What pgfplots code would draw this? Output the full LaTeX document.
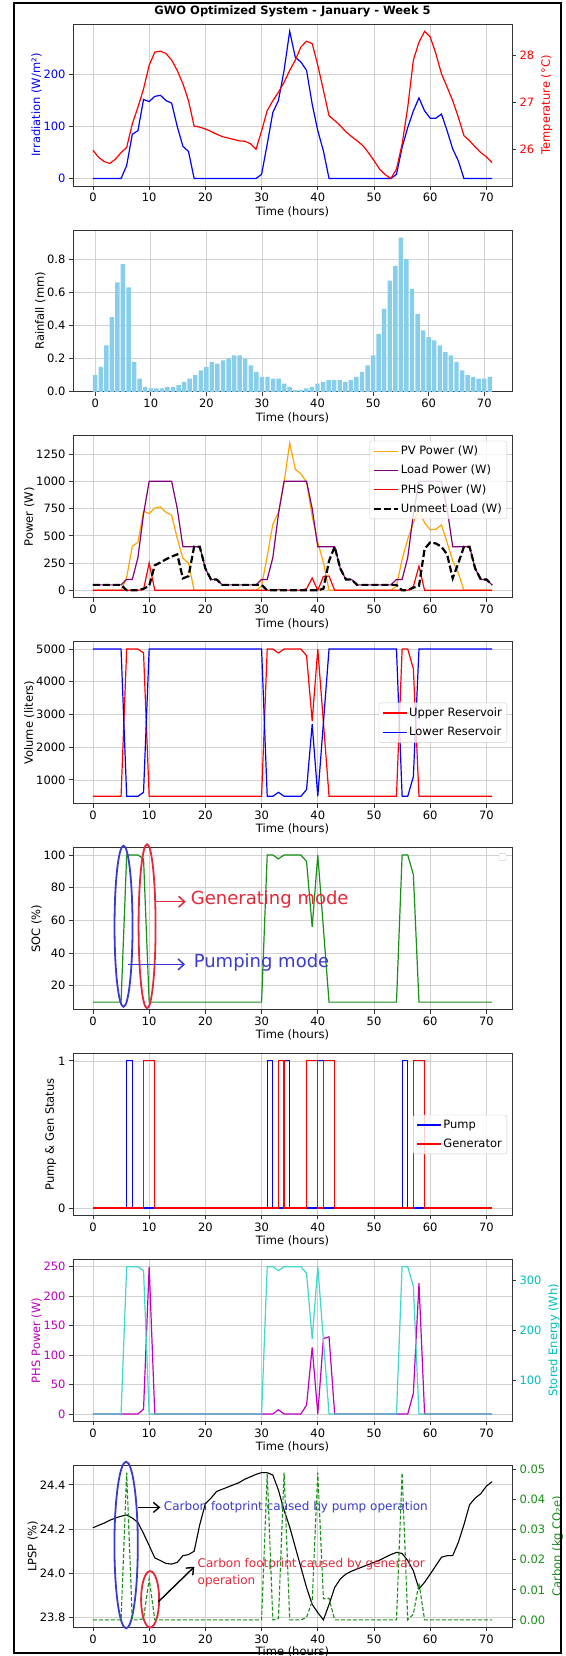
\documentclass[border=0pt]{standalone}
\usepackage{fontspec}
\setmainfont{DejaVu Sans}
\usepackage{pgfplots}
\usepackage{pgfplotstable}
\pgfplotsset{compat=1.18}
\usetikzlibrary{arrows.meta}

\definecolor{mblue}{rgb}{0,0,1}
\definecolor{mred}{rgb}{1,0,0}
\definecolor{morange}{HTML}{FFA500}
\definecolor{mpurple}{HTML}{800080}
\definecolor{skyblue}{HTML}{87CEEB}
\definecolor{mgreen}{HTML}{1A8F1A}
\definecolor{mmag}{rgb}{0.75,0,0.75}
\definecolor{mcyan}{rgb}{0,0.75,0.75}
\definecolor{turq}{HTML}{40D8CC}
\definecolor{annblue}{HTML}{3A3ACD}
\definecolor{annred}{HTML}{E4283A}

\newcommand{\fs}{\fontsize{11.5}{13.8}\selectfont}

% hourly data, t = 0..71
\pgfplotstableread{
t irr temp rain
0 0 25.99 0.10
1 0 25.84 0.15
2 0 25.75 0.28
3 0 25.71 0.45
4 0 25.80 0.66
5 0 25.94 0.77
6 25 26.05 0.63
7 85 26.55 0.18
8 92 26.90 0.08
9 152 27.29 0.03
10 148 27.79 0.02
11 158 28.07 0.02
12 160 28.09 0.02
13 150 28.04 0.03
14 145 27.90 0.03
15 100 27.68 0.04
16 62 27.40 0.06
17 52 27.04 0.08
18 0 26.50 0.10
19 0 26.48 0.13
20 0 26.44 0.15
21 0 26.39 0.18
22 0 26.33 0.17
23 0 26.28 0.19
24 0 26.25 0.20
25 0 26.22 0.22
26 0 26.19 0.22
27 0 26.18 0.20
28 0 26.13 0.16
29 0 26.01 0.12
30 8 26.40 0.09
31 66 26.83 0.09
32 127 27.04 0.08
33 150 27.22 0.08
34 208 27.43 0.05
35 283 27.68 0.03
36 233 27.90 0.01
37 224 28.18 0.01
38 208 28.30 0.02
39 143 28.25 0.03
40 92 27.79 0.05
41 53 27.26 0.06
42 0 26.72 0.07
43 0 26.62 0.07
44 0 26.51 0.07
45 0 26.38 0.06
46 0 26.28 0.07
47 0 26.19 0.09
48 0 26.09 0.12
49 0 25.94 0.16
50 0 25.77 0.22
51 0 25.59 0.35
52 0 25.47 0.50
53 0 25.39 0.67
54 8 25.59 0.76
55 60 26.12 0.93
56 98 26.90 0.80
57 130 27.90 0.62
58 155 28.28 0.47
59 130 28.51 0.37
60 116 28.39 0.33
61 116 28.04 0.31
62 124 27.61 0.28
63 92 27.33 0.24
64 57 27.04 0.22
65 34 26.69 0.18
66 0 26.30 0.13
67 0 26.19 0.10
68 0 26.06 0.09
69 0 25.94 0.08
70 0 25.85 0.08
71 0 25.73 0.09
}\weather

\pgfplotstableread{
t pv load phs unmet
0 0 50 0 50
1 0 50 0 50
2 0 50 0 50
3 0 50 0 50
4 0 50 0 50
5 0 50 0 50
6 120 100 0 0
7 405 100 0 0
8 440 300 0 0
9 725 700 8 15
10 705 1000 250 40
11 755 1000 0 230
12 765 1000 0 255
13 715 1000 0 285
14 690 1000 0 310
15 475 750 0 330
16 295 400 0 110
17 250 400 0 130
18 0 400 0 400
19 0 400 0 400
20 0 200 0 200
21 0 100 0 100
22 0 100 0 100
23 0 50 0 50
24 0 50 0 50
25 0 50 0 50
26 0 50 0 50
27 0 50 0 50
28 0 50 0 50
29 0 50 0 50
30 40 100 0 50
31 315 100 0 0
32 605 300 0 0
33 715 700 7 0
34 990 1000 0 0
35 1350 1000 0 0
36 1110 1000 0 0
37 1070 1000 0 0
38 990 1000 15 0
39 680 750 113 0
40 440 400 0 0
41 255 400 128 15
42 0 400 131 270
43 0 400 0 400
44 0 200 0 200
45 0 100 0 100
46 0 100 0 100
47 0 50 0 50
48 0 50 0 50
49 0 50 0 50
50 0 50 0 50
51 0 50 0 50
52 0 50 0 50
53 0 50 0 50
54 40 100 0 50
55 285 100 0 0
56 470 300 0 0
57 620 700 35 25
58 740 1000 222 40
59 620 1000 0 380
60 555 1000 0 440
61 560 1000 0 430
62 600 1000 0 400
63 440 750 0 330
64 270 400 0 110
65 160 400 0 250
66 0 400 0 400
67 0 400 0 400
68 0 200 0 200
69 0 100 0 100
70 0 100 0 100
71 0 50 0 50
}\power

\pgfplotstableread{
t upper lower soc stored pump gen
0 500 5000 10 32.7 0 0
1 500 5000 10 32.7 0 0
2 500 5000 10 32.7 0 0
3 500 5000 10 32.7 0 0
4 500 5000 10 32.7 0 0
5 500 5000 10 32.7 0 0
6 5000 500 100 327 1 0
7 5000 500 100 327 0 0
8 5000 500 100 327 0 0
9 4880 620 97.6 319.2 0 1
10 500 5000 10 32.7 0 1
11 500 5000 10 32.7 0 0
12 500 5000 10 32.7 0 0
13 500 5000 10 32.7 0 0
14 500 5000 10 32.7 0 0
15 500 5000 10 32.7 0 0
16 500 5000 10 32.7 0 0
17 500 5000 10 32.7 0 0
18 500 5000 10 32.7 0 0
19 500 5000 10 32.7 0 0
20 500 5000 10 32.7 0 0
21 500 5000 10 32.7 0 0
22 500 5000 10 32.7 0 0
23 500 5000 10 32.7 0 0
24 500 5000 10 32.7 0 0
25 500 5000 10 32.7 0 0
26 500 5000 10 32.7 0 0
27 500 5000 10 32.7 0 0
28 500 5000 10 32.7 0 0
29 500 5000 10 32.7 0 0
30 500 5000 10 32.7 0 0
31 5000 500 100 327 1 0
32 5000 500 100 327 0 0
33 4880 620 97.6 319.2 0 1
34 5000 500 100 327 1 0
35 5000 500 100 327 0 0
36 5000 500 100 327 0 0
37 5000 500 100 327 0 0
38 4800 700 96 313.9 0 1
39 2800 2700 56 183.1 0 1
40 5000 500 100 327 1 0
41 2750 2750 55 179.9 0 1
42 500 5000 10 32.7 0 1
43 500 5000 10 32.7 0 0
44 500 5000 10 32.7 0 0
45 500 5000 10 32.7 0 0
46 500 5000 10 32.7 0 0
47 500 5000 10 32.7 0 0
48 500 5000 10 32.7 0 0
49 500 5000 10 32.7 0 0
50 500 5000 10 32.7 0 0
51 500 5000 10 32.7 0 0
52 500 5000 10 32.7 0 0
53 500 5000 10 32.7 0 0
54 500 5000 10 32.7 0 0
55 5000 500 100 327 1 0
56 5000 500 100 327 0 0
57 4400 1100 88 287.8 0 1
58 500 5000 10 32.7 0 1
59 500 5000 10 32.7 0 0
60 500 5000 10 32.7 0 0
61 500 5000 10 32.7 0 0
62 500 5000 10 32.7 0 0
63 500 5000 10 32.7 0 0
64 500 5000 10 32.7 0 0
65 500 5000 10 32.7 0 0
66 500 5000 10 32.7 0 0
67 500 5000 10 32.7 0 0
68 500 5000 10 32.7 0 0
69 500 5000 10 32.7 0 0
70 500 5000 10 32.7 0 0
71 500 5000 10 32.7 0 0
}\storage

\pgfplotstableread{
t lpsp carbon
0 24.206 0
1 24.217 0
2 24.227 0
3 24.240 0
4 24.250 0
5 24.258 0
6 24.264 0.049
7 24.250 0
8 24.230 0
9 24.180 0.0004
10 24.126 0.0137
11 24.070 0
12 24.058 0
13 24.045 0
14 24.042 0
15 24.050 0
16 24.080 0
17 24.085 0
18 24.100 0
19 24.220 0
20 24.315 0
21 24.340 0
22 24.370 0
23 24.380 0
24 24.390 0
25 24.400 0
26 24.410 0
27 24.425 0
28 24.436 0
29 24.447 0
30 24.455 0
31 24.455 0.049
32 24.444 0
33 24.376 0.0004
34 24.285 0.049
35 24.210 0
36 24.118 0
37 24.027 0
38 23.936 0.0008
39 23.860 0.0062
40 23.823 0.049
41 23.790 0.007
42 23.860 0.0072
43 23.936 0
44 23.975 0
45 23.997 0
46 24.010 0
47 24.020 0
48 24.030 0
49 24.040 0
50 24.050 0
51 24.060 0
52 24.073 0
53 24.085 0
54 24.095 0
55 24.090 0.049
56 24.058 0
57 24.012 0.0019
58 23.930 0.0122
59 23.960 0
60 23.997 0
61 24.035 0
62 24.073 0
63 24.080 0
64 24.080 0
65 24.140 0
66 24.220 0
67 24.310 0
68 24.340 0
69 24.360 0
70 24.394 0
71 24.414 0
}\impact

\pgfplotsset{
  base/.style={
    scale only axis, width=439pt, height=161.9pt, anchor=north west,
    xmin=-3.55, xmax=74.55, xtick={0,10,...,70}, enlargelimits=false,
    scaled ticks=false, tick pos=left, tick align=outside,
    major tick length=4pt,
    /pgf/number format/assume math mode=true,
    /pgf/number format/1000 sep={},
    tick label style={font=\fs},
    label style={font=\fs},
    axis line style={black!80, line width=0.8pt},
    tick style={black!80, line width=0.8pt},
  },
  panel/.style={base,
    xlabel={Time (hours)}, xlabel style={yshift=2.5pt},
    ylabel style={yshift=-5pt},
    grid=major, grid style={black!18, line width=0.7pt},
    legend style={font=\fs, draw=black!20, rounded corners=2pt,
      fill=white, fill opacity=0.8, text opacity=1, draw opacity=1,
      inner xsep=3pt, inner ysep=3pt, row sep=5pt, cells={anchor=west}},
    legend image code/.code={\draw[##1] (0pt,0pt) -- (24pt,0pt);},
  },
  twin/.style={base, axis y line*=right, axis x line=none, ytick pos=right},
}

\begin{document}
\begin{tikzpicture}
\useasboundingbox (0,0) rectangle (565pt,-1656pt);
\fill[white] (0,0) rectangle (565pt,-1656pt);

% 1: irradiation and temperature
\begin{axis}[panel, at={(73pt,-24pt)}, ymin=-14.15, ymax=297.15, ytick={0,100,200},
  ylabel={Irradiation (W/m²)}, ylabel style={text=mblue}, yticklabel style={text=mblue},
  title={\bfseries GWO Optimized System - January - Week 5},
  title style={font=\fs, yshift=-3pt}]
\addplot[mblue, line width=1.2pt] table[x=t, y=irr] {\weather};
\end{axis}
\begin{axis}[twin, at={(73pt,-24pt)}, ymin=25.234, ymax=28.666, ytick={26,27,28},
  ylabel={Temperature (°C)}, ylabel style={text=mred}, yticklabel style={text=mred}]
\addplot[mred, line width=1.2pt] table[x=t, y=temp] {\weather};
\end{axis}

% 2: rainfall
\begin{axis}[panel, at={(73pt,-229.9pt)}, xmin=-3.99, xmax=74.99, ymin=0, ymax=0.9765,
  ytick={0,0.2,0.4,0.6,0.8}, ylabel={Rainfall (mm)},
  yticklabel style={/pgf/number format/.cd, fixed, fixed zerofill, precision=1}]
\addplot[ybar, bar width=0.8, bar shift=0pt, fill=skyblue, draw=none] table[x=t, y=rain] {\weather};
\end{axis}

% 3: power
\begin{axis}[panel, at={(73pt,-435.8pt)}, ymin=-67.5, ymax=1417.5,
  ytick={0,250,500,750,1000,1250}, ylabel={Power (W)},
  legend style={at={(1,1)}, anchor=north east, xshift=-5pt, yshift=-5pt}]
\addplot[morange, line width=1.2pt] table[x=t, y=pv] {\power};
\addplot[mpurple, line width=1.2pt] table[x=t, y=load] {\power};
\addplot[mred, line width=1.2pt] table[x=t, y=phs] {\power};
\addplot[black, line width=2.2pt, dash pattern=on 7pt off 3pt] table[x=t, y=unmet] {\power};
\legend{PV Power (W), Load Power (W), PHS Power (W), Unmeet Load (W)}
\end{axis}

% 4: reservoir volumes
\begin{axis}[panel, at={(73pt,-641.7pt)}, ymin=275, ymax=5225,
  ytick={1000,2000,3000,4000,5000}, ylabel={Volume (liters)},
  legend style={at={(1,0.5)}, anchor=east, xshift=-5pt}]
\addplot[mred, line width=1.2pt] table[x=t, y=upper] {\storage};
\addplot[mblue, line width=1.2pt] table[x=t, y=lower] {\storage};
\legend{Upper Reservoir, Lower Reservoir}
\end{axis}

% 5: state of charge
\begin{axis}[panel, at={(73pt,-847.6pt)}, ymin=5.5, ymax=104.5,
  ytick={20,40,60,80,100}, ylabel={SOC (\%)}, clip=false]
\addplot[mgreen, line width=1.2pt] table[x=t, y=soc] {\storage};
\draw[black!20, fill=white, rounded corners=1pt] ([xshift=-13pt,yshift=-13pt]rel axis cs:1,1) rectangle ([xshift=-6pt,yshift=-6pt]rel axis cs:1,1);
\draw[annblue, line width=1.8pt] (axis cs:5.44,56.4) ellipse [x radius=9pt, y radius=80.5pt];
\draw[annred, line width=1.8pt] (axis cs:9.63,56.4) ellipse [x radius=8.5pt, y radius=82pt];
\draw[annred, line width=1.5pt, -{Straight Barb[length=6pt,width=11pt]}] (axis cs:11,71.4) -- (axis cs:16.5,71.4);
\draw[annblue, line width=1.5pt, -{Straight Barb[length=6pt,width=11pt]}] (axis cs:6.2,33.1) -- (axis cs:16.4,33.1);
\node[anchor=mid west, inner sep=0pt, text=annred, font=\fontsize{18}{21}\selectfont] at (axis cs:17.4,71.4) {Generating mode};
\node[anchor=mid west, inner sep=0pt, text=annblue, font=\fontsize{18}{21}\selectfont] at (axis cs:17.9,33.1) {Pumping mode};
\end{axis}

% 6: pump and generator status
\begin{axis}[panel, at={(73pt,-1053.5pt)}, ymin=-0.05, ymax=1.05, ytick={0,1},
  ylabel={Pump \& Gen Status},
  legend style={at={(1,0.5)}, anchor=east, xshift=-5pt}]
\addplot[mblue, line width=1.2pt, const plot] table[x=t, y=pump] {\storage};
\addplot[mred, line width=1.2pt, const plot] table[x=t, y=gen] {\storage};
\legend{Pump, Generator}
\end{axis}

% 7: PHS power and stored energy
\begin{axis}[panel, at={(73pt,-1259.4pt)}, ymin=-12.5, ymax=262.5,
  ytick={0,50,100,150,200,250}, ylabel={PHS Power (W)},
  ylabel style={text=mmag}, yticklabel style={text=mmag}]
\addplot[mmag, line width=1.2pt] table[x=t, y=phs] {\power};
\end{axis}
\begin{axis}[twin, at={(73pt,-1259.4pt)}, ymin=18.0, ymax=341.7, ytick={100,200,300},
  ylabel={Stored Energy (Wh)}, ylabel style={text=mcyan}, yticklabel style={text=mcyan}]
\addplot[turq, line width=1.2pt] table[x=t, y=stored] {\storage};
\end{axis}

% 8: LPSP and carbon
\begin{axis}[panel, at={(73pt,-1465.3pt)}, ymin=23.757, ymax=24.488,
  ytick={23.8,24.0,24.2,24.4}, ylabel={LPSP (\%)}, clip=false,
  xlabel style={yshift=1.5pt},
  yticklabel style={/pgf/number format/.cd, fixed, fixed zerofill, precision=1}]
\addplot[black, line width=1.1pt] table[x=t, y=lpsp] {\impact};
\draw[annblue, line width=1.8pt] (axis cs:5.9,24.128) ellipse [x radius=11.7pt, y radius=83.3pt];
\draw[annred, line width=1.8pt] (axis cs:10.17,23.883) ellipse [x radius=9pt, y radius=28.2pt];
\draw[black, line width=1.4pt, -{Straight Barb[length=6pt,width=10pt]}] (axis cs:8.0,24.298) -- (axis cs:12.0,24.298);
\draw[black, line width=1.4pt, -{Straight Barb[length=6pt,width=10pt]}] (axis cs:11.64,23.872) -- (axis cs:18.04,24.030);
\node[anchor=mid west, inner sep=0pt, text=annblue, font=\fontsize{12}{15}\selectfont] at (axis cs:12.6,24.298) {Carbon footprint caused by pump operation};
\node[anchor=west, inner sep=0pt, align=left, text=annred, font=\fontsize{12}{17}\selectfont] at (axis cs:18.6,24.002) {Carbon footprint caused by generator\\operation};
\end{axis}
\begin{axis}[twin, at={(73pt,-1465.3pt)}, ymin=-0.00245, ymax=0.05145,
  ytick={0,0.01,0.02,0.03,0.04,0.05}, ylabel={Carbon (kg CO₂e)},
  ylabel style={text=mgreen}, yticklabel style={text=mgreen,
    /pgf/number format/.cd, fixed, fixed zerofill, precision=2}]
\addplot[mgreen, line width=1.1pt, dash pattern=on 4pt off 2pt] table[x=t, y=carbon] {\impact};
\end{axis}

\draw[line width=2pt] (14pt,-3pt) rectangle (561pt,-1653pt);
\end{tikzpicture}
\end{document}
